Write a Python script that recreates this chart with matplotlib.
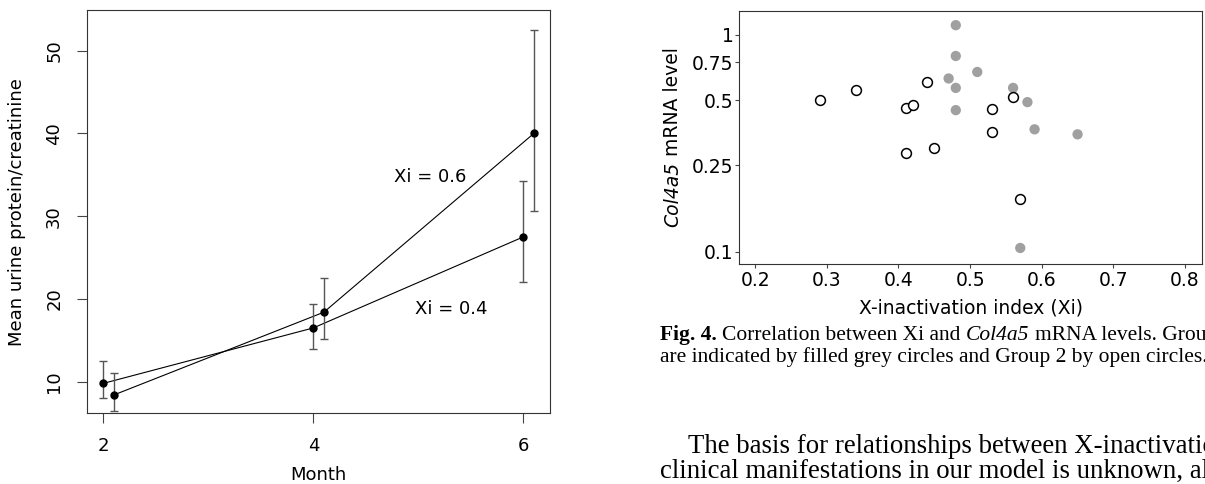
import matplotlib
matplotlib.use("Agg")
import matplotlib.pyplot as plt
from matplotlib.ticker import NullLocator

plt.rcParams['font.family'] = ['DejaVu Sans']

# Daten linke Grafik (Protein/Kreatinin je Monat)
months = [2, 4, 6]
xi04_mean = [9.8, 16.5, 27.5]
xi04_low = [8.0, 14.0, 22.1]
xi04_high = [12.45, 19.4, 34.2]
xi06_mean = [8.4, 18.4, 40.0]
xi06_low = [6.5, 15.2, 30.6]
xi06_high = [11.1, 22.5, 52.5]

# Daten rechte Grafik (Xi vs Col4a5 mRNA)
grp1_xi = [0.48, 0.48, 0.51, 0.47, 0.48, 0.48, 0.56, 0.58, 0.59, 0.65, 0.57]
grp1_mrna = [1.11, 0.80, 0.675, 0.63, 0.57, 0.45, 0.57, 0.49, 0.367, 0.348, 0.104]
grp2_xi = [0.29, 0.34, 0.41, 0.42, 0.44, 0.41, 0.45, 0.53, 0.53, 0.56, 0.57]
grp2_mrna = [0.50, 0.56, 0.46, 0.475, 0.61, 0.284, 0.30, 0.457, 0.355, 0.517, 0.175]
mrna_ticks = [0.1, 0.25, 0.5, 0.75, 1]
mrna_labels = ["0.1", "0.25", "0.5", "0.75", "1"]
xi_ticks = [0.2, 0.3, 0.4, 0.5, 0.6, 0.7, 0.8]

W, H = 1205, 484
fig = plt.figure(figsize=(W / 100, H / 100), dpi=100)
renderer = fig.canvas.get_renderer()


def text_width(s, **kw):
    t = fig.text(0, 0, s, **kw)
    w = t.get_window_extent(renderer).width
    t.remove()
    return w


def put_pieces(x, y, pieces, size, family, vertical=False):
    # Textstuecke mit unterschiedlichem Stil hintereinander setzen (x, y in Pixel von oben links)
    space = text_width("x x", family=family, fontsize=size) - text_width("xx", family=family, fontsize=size)
    for s, weight, style in pieces:
        kw = dict(family=family, fontsize=size, fontweight=weight, fontstyle=style)
        if vertical:
            fig.text(x / W, 1 - y / H, s, rotation=90, rotation_mode="anchor",
                     ha="left", va="baseline", **kw)
        else:
            fig.text(x / W, 1 - y / H, s, ha="left", va="baseline", **kw)
        step = text_width(s, **kw) + space
        if vertical:
            y -= step
        else:
            x += step


# linke Grafik
ax = fig.add_axes([0.0720, 0.1467, 0.3847, 0.832])
jitter = 0.1
m06 = [m + jitter for m in months]

ax.plot(months, xi04_mean, color="black", lw=0.8)
ax.plot(m06, xi06_mean, color="black", lw=0.8)
for xs, mean, lo, hi in [(months, xi04_mean, xi04_low, xi04_high),
                         (m06, xi06_mean, xi06_low, xi06_high)]:
    err = [[m - l for m, l in zip(mean, lo)], [h - m for m, h in zip(mean, hi)]]
    ax.errorbar(xs, mean, yerr=err, fmt="none", ecolor="#555555",
                elinewidth=1.0, capsize=2.9, capthick=1.0)
    ax.plot(xs, mean, "o", color="black", ms=5)

ax.text(4.77, 34.7, "Xi = 0.6", fontsize=13, va="center", ha="left")
ax.text(4.97, 18.75, "Xi = 0.4", fontsize=13, va="center", ha="left")

ax.set_xlim(1.842, 6.257)
ax.set_ylim(6.22, 54.88)
ax.set_xticks(months)
ax.set_yticks([10, 20, 30, 40, 50])
ax.tick_params(length=7, width=0.8, color="#444444", labelsize=13, pad=10)
for t in ax.get_yticklabels():
    t.set_rotation(90)
    t.set_va("center")
for s in ax.spines.values():
    s.set_color("#333333")
    s.set_linewidth(0.8)
ax.set_xlabel("Month", fontsize=13, va="top")
ax.xaxis.set_label_coords(0.5, -0.1315)
ax.set_ylabel("Mean urine protein/creatinine", fontsize=13)
ax.yaxis.set_label_coords(-0.13, 0.5)

# rechte Grafik
ax2 = fig.add_axes([0.6133, 0.4545, 0.3842, 0.5227])
ax2.scatter(grp1_xi, grp1_mrna, s=55, color="#a0a0a0", edgecolors="none", zorder=2)
ax2.scatter(grp2_xi, grp2_mrna, s=50, facecolors="white", edgecolors="black",
            linewidths=1.1, zorder=3)
ax2.set_yscale("log")
ax2.set_ylim(0.0877, 1.29)
ax2.set_xlim(0.1774, 0.8237)
ax2.set_yticks(mrna_ticks)
ax2.set_yticklabels(mrna_labels)
ax2.yaxis.set_minor_locator(NullLocator())
ax2.set_xticks(xi_ticks)
ax2.set_xticklabels([f"{v:.1f}" for v in xi_ticks])
ax2.tick_params(length=3, width=0.8, color="#444444", labelsize=13.5)
ax2.tick_params(axis="y", pad=1)
ax2.tick_params(axis="x", pad=2)
for s in ax2.spines.values():
    s.set_color("#333333")
    s.set_linewidth(0.8)
ax2.set_xlabel("X-inactivation index (Xi)", fontsize=13.5, va="top")
ax2.xaxis.set_label_coords(0.5, -0.138)

# y-Beschriftung rechts: Genname kursiv
ylab = [("Col4a5", "normal", "italic"), ("mRNA level", "normal", "normal")]
ylab_len = sum(text_width(s, fontsize=13.5, fontstyle=st) for s, _, st in ylab) + 5
put_pieces(678, 137.5 + ylab_len / 2, ylab, 13.5, "DejaVu Sans", vertical=True)

# Bildunterschrift und Fliesstext
serif = "Liberation Serif"
put_pieces(660, 340, [("Fig. 4.", "bold", "normal"),
                      ("Correlation between Xi and", "normal", "normal"),
                      ("Col4a5", "normal", "italic"),
                      ("mRNA levels. Group 1", "normal", "normal")], 15.5, serif)
put_pieces(660, 362, [("are indicated by filled grey circles and Group 2 by open circles.",
                       "normal", "normal")], 15.5, serif)
put_pieces(688, 453, [("The basis for relationships between X-inactivation and",
                       "normal", "normal")], 19.3, serif)
put_pieces(660, 478, [("clinical manifestations in our model is unknown, although",
                       "normal", "normal")], 19.3, serif)

fig.savefig("out.png", dpi=100)
